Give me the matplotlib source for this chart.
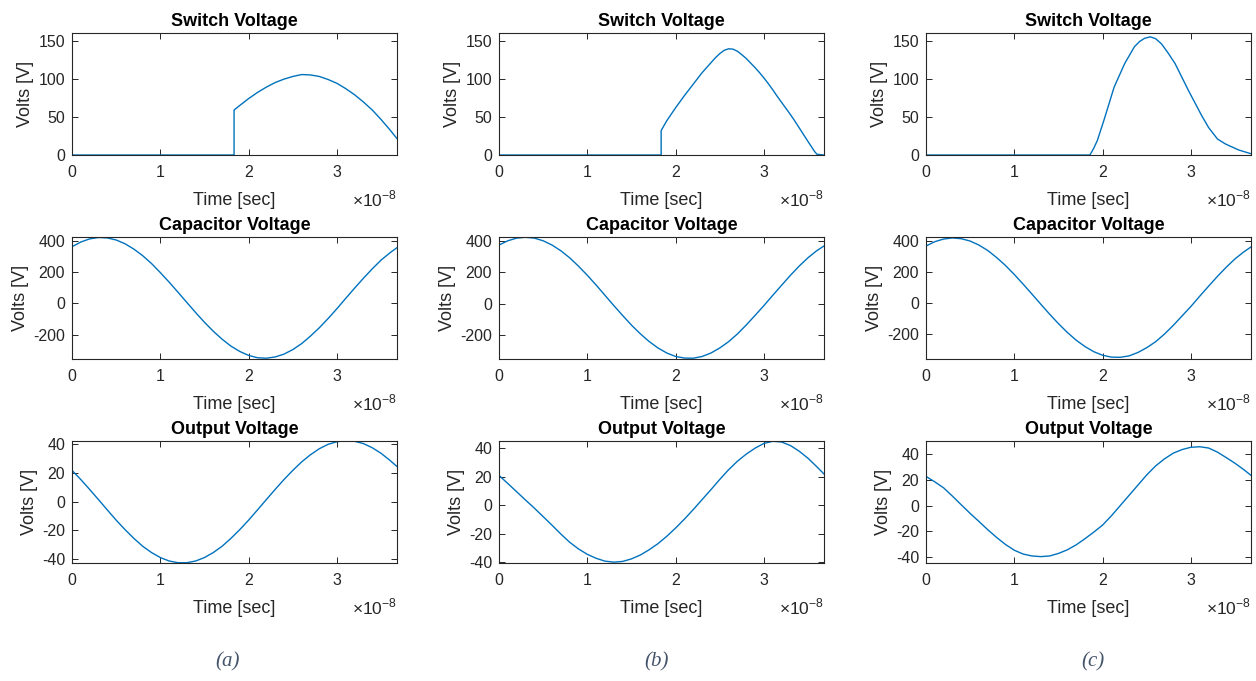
import matplotlib
matplotlib.use("Agg")
from matplotlib import pyplot as plt
from matplotlib.ticker import FuncFormatter
import numpy as np

plt.rcParams["font.family"] = ["Liberation Sans", "DejaVu Sans"]
plt.rcParams["axes.unicode_minus"] = False
plt.rcParams["mathtext.fontset"] = "custom"
plt.rcParams["mathtext.rm"] = "Liberation Sans"

T_SCALE = 1e-8  # times below are in units of 1e-8 s

# ---- switch voltage ----
t_sw_a = [0, 1.835, 1.835, 1.9, 2.0, 2.1, 2.2, 2.3, 2.4, 2.5, 2.6, 2.7, 2.8,
          2.9, 3.0, 3.1, 3.2, 3.3, 3.4, 3.5, 3.6, 3.68]
v_sw_a = [0, 0, 59, 65, 74, 82, 89, 95, 99.5, 103, 105.5, 105, 103,
          99, 94, 87, 79, 69.5, 59, 46.5, 33, 21.5]

t_sw_b = [0, 1.836, 1.836, 1.9, 1.95, 2.0, 2.05, 2.1, 2.15, 2.2, 2.25, 2.3,
          2.35, 2.4, 2.45, 2.5, 2.55, 2.6, 2.65, 2.7, 2.75, 2.8, 2.85, 2.9,
          2.95, 3.0, 3.05, 3.1, 3.15, 3.2, 3.25, 3.3, 3.35, 3.4, 3.45, 3.5,
          3.54, 3.574, 3.6, 3.676]
v_sw_b = [0, 0, 32, 45, 53.5, 62, 70, 78, 85.5, 93, 100.5, 108,
          114.5, 121, 127.5, 133, 137.3, 139.3, 138.8, 136, 131.5, 126.5, 120.5, 114.5,
          108, 101, 93.5, 85.5, 77, 69, 61, 53, 44.5, 35.5, 26.5, 17.5,
          10.5, 4.5, 1, 0]

t_sw_c = [0, 1.856, 1.9, 1.94, 2.02, 2.13, 2.25, 2.36, 2.42, 2.475, 2.54, 2.6,
          2.665, 2.74, 2.82, 2.97, 3.12, 3.2, 3.3, 3.39, 3.54, 3.69]
v_sw_c = [0, 0, 9, 19, 47.5, 89, 120, 142, 149, 153, 155, 152.5,
          146, 134, 120, 85, 52, 36, 21, 14.5, 6.6, 1.3]

# ---- capacitor voltage ----
t_cap = [0, 0.1, 0.2, 0.3, 0.4, 0.5, 0.6, 0.7, 0.8, 0.9, 1.0, 1.1, 1.2, 1.3,
         1.4, 1.5, 1.6, 1.7, 1.8, 1.9, 2.0, 2.1, 2.2, 2.3, 2.4, 2.5, 2.6, 2.7,
         2.8, 2.9, 3.0, 3.1, 3.2, 3.3, 3.4, 3.5, 3.6, 3.68]
v_cap_a = [361, 391, 411, 420, 417, 404, 380, 346, 304, 254, 196, 135, 71, 6,
           -59, -121, -178, -229, -273, -307, -332, -347, -350, -342, -324,
           -295, -257, -209, -156, -97, -34, 32, 97, 160, 220, 276, 322, 355]
v_cap_b = [372, 399, 416, 421, 416, 399, 372, 336, 291, 238, 180, 118, 53, -12,
           -75, -136, -191, -240, -281, -313, -335, -345, -346, -335, -313,
           -281, -241, -192, -135, -74, -12, 53, 117, 180, 239, 292, 337, 366]
v_cap_c = [366, 394, 411, 418, 413, 398, 372, 337, 292, 241, 183, 121, 57, -8,
           -72, -133, -189, -239, -280, -313, -336, -348, -349, -340, -318,
           -287, -249, -200, -144, -83, -22, 44, 108, 171, 230, 284, 329, 360]

# ---- output voltage ----
t_out = [0, 0.1, 0.2, 0.3, 0.4, 0.5, 0.6, 0.7, 0.8, 0.9, 1.0, 1.1, 1.2, 1.3,
         1.4, 1.5, 1.6, 1.7, 1.8, 1.9, 2.0, 2.1, 2.2, 2.3, 2.4, 2.5, 2.6, 2.7,
         2.8, 2.9, 3.0, 3.1, 3.2, 3.3, 3.4, 3.5, 3.6, 3.68]
v_out_a = [21.9, 15.5, 8.6, 1.5, -5.7, -12.8, -19.4, -25.5, -31.0, -35.4,
           -38.9, -41.3, -42.5, -42.5, -41.3, -38.9, -35.4, -31.0, -25.5,
           -19.4, -12.8, -5.7, 1.5, 8.6, 15.5, 21.9, 27.8, 32.8, 37.0, 40.1,
           41.9, 42.7, 42.2, 40.6, 37.7, 33.8, 28.9, 24.6]
v_out_b = [21, 15.3, 9.5, 3.7, -2, -8, -14, -20.2, -26, -30.7, -34.5, -37.3,
           -39.3, -40, -39.5, -37.7, -35, -31.3, -27, -21.8, -16, -9.7, -3,
           4, 11, 18.2, 25, 31, 36, 40.2, 43.5, 45, 44.5, 42, 38, 33, 27, 22]
v_out_c = [22.8, 18.5, 13.8, 7.3, 0.5, -6.2, -12.5, -19, -25, -30.5, -35, -38,
           -39.5, -40, -39.5, -37.5, -34.7, -30.8, -26, -20.8, -15.3, -8, 0,
           8, 16, 24, 31, 36.5, 41, 43.8, 45.6, 46, 45, 41.8, 37.5, 33, 28, 23.6]

titles = ["Switch Voltage", "Capacitor Voltage", "Output Voltage"]
captions = ["(a)", "(b)", "(c)"]

series = [
    [(t_sw_a, v_sw_a), (t_cap, v_cap_a), (t_out, v_out_a)],
    [(t_sw_b, v_sw_b), (t_cap, v_cap_b), (t_out, v_out_b)],
    [(t_sw_c, v_sw_c), (t_cap, v_cap_c), (t_out, v_out_c)],
]
ylims = [
    [(0, 160), (-355, 423), (-42.7, 42.4)],
    [(0, 160), (-351, 423), (-40.6, 45.2)],
    [(0, 160), (-360, 424), (-45, 50.5)],
]
yticks = [[0, 50, 100, 150], [-200, 0, 200, 400], [-40, -20, 0, 20, 40]]

W, H = 1256, 681
col_left = [72, 499, 926]
col_w = 325
row_top = [33, 237, 441]
row_h = 122
caption_x = [228, 657, 1093]

fig = plt.figure(figsize=(W / 100, H / 100), dpi=100)
dark = "#262626"

for c in range(3):
    for r in range(3):
        ax = fig.add_axes([col_left[c] / W, 1 - (row_top[r] + row_h) / H,
                           col_w / W, row_h / H])
        t, v = series[c][r]
        ax.plot(np.array(t) * T_SCALE, v, color="#0072BD", lw=1.0)
        ax.set_xlim(0, 3.68 * T_SCALE)
        ax.set_ylim(*ylims[c][r])
        ax.set_xticks(np.array([0, 1, 2, 3]) * T_SCALE)
        ax.set_yticks(yticks[r])
        ax.xaxis.set_major_formatter(FuncFormatter(lambda x, _: f"{x / T_SCALE:g}"))
        ax.tick_params(direction="in", top=True, right=True, length=4,
                       width=0.7, labelsize=11.5, colors=dark, pad=5)
        ax.tick_params(axis="x", pad=7)
        for s in ax.spines.values():
            s.set_color(dark)
            s.set_linewidth(0.8)
        ax.set_title(titles[r], fontsize=13, fontweight="bold", pad=5)
        ax.set_ylabel("Volts [V]", fontsize=13, color=dark, labelpad=3)
        ax.set_xlabel("Time [sec]", fontsize=13, color=dark, labelpad=9)
        ax.text(1.0, -0.28, r"×10$^{-8}$", transform=ax.transAxes,
                ha="right", va="top", fontsize=12.5, color=dark)
    fig.text(caption_x[c] / W, 1 - 662 / H, captions[c], ha="center",
             va="center", family="Liberation Serif", style="italic",
             fontsize=15, color="#44546A")

fig.savefig("out.png", dpi=100)
